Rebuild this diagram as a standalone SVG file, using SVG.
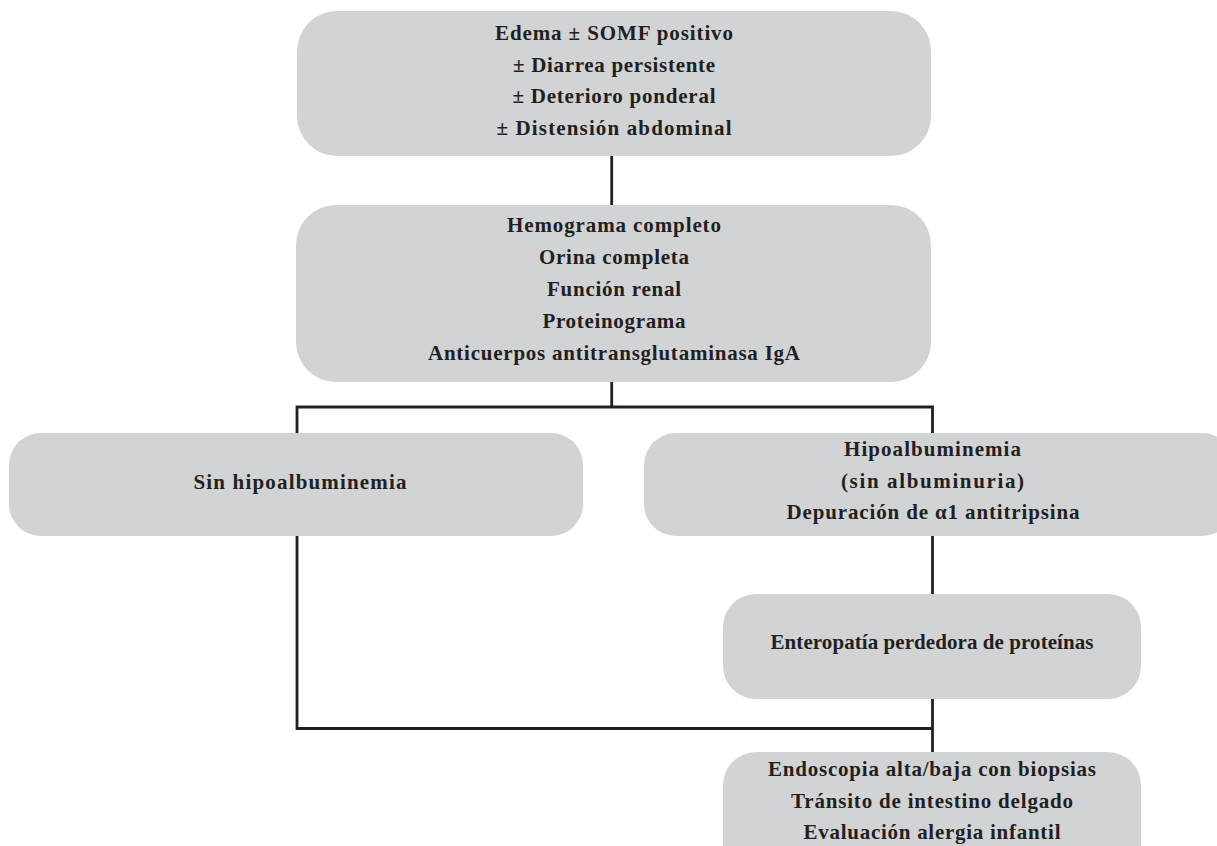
<svg xmlns="http://www.w3.org/2000/svg" width="1217" height="846" viewBox="0 0 1217 846">
<style>
.box{fill:#d1d3d4;}
.t{font-family:"Liberation Serif","Times New Roman",serif;font-weight:bold;font-size:21px;fill:#231f20;text-anchor:middle;}
.c{fill:none;stroke:#231f20;stroke-width:2.8;}
</style>
<rect width="1217" height="846" fill="#ffffff"/>
<g id="connectors">
<path class="c" d="M611.7 156 V205"/>
<path class="c" d="M611.7 382 V407"/>
<path class="c" d="M297 433 V407 H932.5 V433"/>
<path class="c" d="M932.5 536 V594"/>
<path class="c" d="M297 536 V728.5 H932.5"/>
<path class="c" d="M932.5 699 V752"/>
</g>
<g id="n1">
<rect class="box" x="297" y="11" width="634" height="145" rx="40" ry="40"/>
<text class="t" x="614" y="39.5" textLength="238" lengthAdjust="spacing">Edema ± SOMF positivo</text>
<text class="t" x="614" y="71.5" textLength="202" lengthAdjust="spacing">± Diarrea persistente</text>
<text class="t" x="614" y="103.3" textLength="203" lengthAdjust="spacing">± Deterioro ponderal</text>
<text class="t" x="614" y="135" textLength="235" lengthAdjust="spacing">± Distensión abdominal</text>
</g>
<g id="n2">
<rect class="box" x="296" y="205" width="635" height="177" rx="40" ry="40"/>
<text class="t" x="614" y="231.5" textLength="214" lengthAdjust="spacing">Hemograma completo</text>
<text class="t" x="614" y="263.5" textLength="150" lengthAdjust="spacing">Orina completa</text>
<text class="t" x="614" y="295.5" textLength="134" lengthAdjust="spacing">Función renal</text>
<text class="t" x="614" y="327.5" textLength="143" lengthAdjust="spacing">Proteinograma</text>
<text class="t" x="614" y="359.5" textLength="372" lengthAdjust="spacing">Anticuerpos antitransglutaminasa IgA</text>
</g>
<g id="n3">
<rect class="box" x="9" y="433" width="574" height="103" rx="32" ry="32"/>
<text class="t" x="300" y="489" textLength="213" lengthAdjust="spacing">Sin hipoalbuminemia</text>
</g>
<g id="n4">
<rect class="box" x="644" y="433" width="590" height="103" rx="32" ry="32"/>
<text class="t" x="932.5" y="456" textLength="177" lengthAdjust="spacing">Hipoalbuminemia</text>
<text class="t" x="932.5" y="487.5" textLength="183" lengthAdjust="spacing">(sin albuminuria)</text>
<text class="t" x="933" y="519" textLength="293" lengthAdjust="spacing">Depuración de  α1 antitripsina</text>
</g>
<g id="n5">
<rect class="box" x="723" y="594" width="418" height="105" rx="33" ry="33"/>
<text class="t" x="932" y="649" textLength="323" lengthAdjust="spacing">Enteropatía perdedora de proteínas</text>
</g>
<g id="n6">
<rect class="box" x="723" y="752" width="418" height="130" rx="33" ry="33"/>
<text class="t" x="932" y="776" textLength="328" lengthAdjust="spacing">Endoscopia alta/baja con biopsias</text>
<text class="t" x="932" y="807.5" textLength="282" lengthAdjust="spacing">Tránsito de intestino delgado</text>
<text class="t" x="932" y="839" textLength="257" lengthAdjust="spacing">Evaluación alergia infantil</text>
</g>
</svg>
